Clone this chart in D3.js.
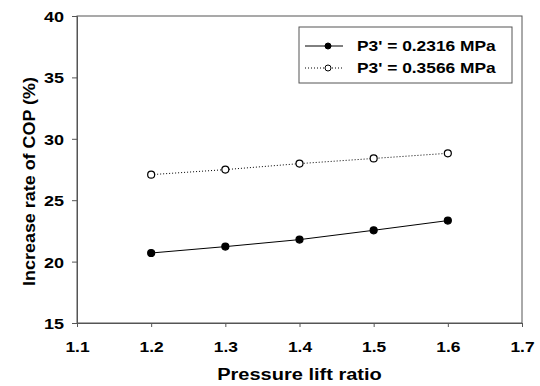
<!DOCTYPE html>
<html>
<head>
<meta charset="utf-8">
<script src="https://cdn.jsdelivr.net/npm/d3@7"></script>
<style>
  body { margin: 0; background: #fff; }
  text { font-family: "Liberation Sans", Arial, sans-serif; font-weight: bold; fill: #000; }
</style>
</head>
<body>
<div id="chart"></div>
<script>

var ratios = [1.2, 1.3, 1.4, 1.5, 1.6];
var lowP = [20.70, 21.22, 21.79, 22.55, 23.34];
var highP = [27.08, 27.49, 27.98, 28.40, 28.82];
var seriesNames = ["P3' = 0.2316 MPa", "P3' = 0.3566 MPa"];
var xTicks = [1.1, 1.2, 1.3, 1.4, 1.5, 1.6, 1.7];
var yTicks = [15, 20, 25, 30, 35, 40];

var W = 540, H = 386;
var margin = { top: 16, right: 18, bottom: 63, left: 77 },
  width = W - margin.left - margin.right,
  height = H - margin.top - margin.bottom;

var svg = d3.select("#chart").append("svg")
  .attr("width", W).attr("height", H);

var g = svg.append("g")
  .attr("transform", "translate(" + margin.left + "," + margin.top + ")");

var x = d3.scaleLinear().domain([1.1, 1.7]).range([0, width]);
var y = d3.scaleLinear().domain([15, 40]).range([height, 0]);

// widen glyphs a bit, the original text is stretched sideways
function stretch(sel, k) {
  sel.each(function () {
    var len = this.getComputedTextLength();
    d3.select(this).attr("textLength", len * k).attr("lengthAdjust", "spacingAndGlyphs");
  });
}

// frame
g.append("rect")
  .attr("width", width).attr("height", height)
  .attr("fill", "none").attr("stroke", "#555").attr("stroke-width", 1);

var xAxis = g.append("g")
  .attr("transform", "translate(0," + height + ")")
  .call(d3.axisBottom(x).tickValues(xTicks).tickFormat(d3.format(".1f")).tickSize(4).tickPadding(15));
var yAxis = g.append("g")
  .call(d3.axisLeft(y).tickValues(yTicks).tickSize(5).tickPadding(8));

[xAxis, yAxis].forEach(function (a) {
  a.select(".domain").attr("stroke", "#555");
  a.selectAll(".tick line").attr("stroke", "#555");
});
xAxis.selectAll(".tick text").attr("font-size", 14.5).attr("font-family", null).call(stretch, 1.2);
yAxis.selectAll(".tick text").attr("font-size", 15).attr("font-family", null).attr("dy", "0.36em").call(stretch, 1.2);

// axis titles
svg.append("text")
  .attr("x", margin.left + width / 2).attr("y", 380)
  .attr("text-anchor", "middle").attr("font-size", 16)
  .text("Pressure lift ratio").call(stretch, 1.25);

svg.append("text")
  .attr("transform", "translate(35," + (margin.top + height / 2 + 12) + ") rotate(-90)")
  .attr("text-anchor", "middle").attr("font-size", 16)
  .text("Increase rate of COP (%)").call(stretch, 1.12);

var line = d3.line()
  .x(function (d) { return x(d[0]); })
  .y(function (d) { return y(d[1]); });

var series = [
  { name: seriesNames[0], values: d3.zip(ratios, lowP), dash: null, fill: "#000" },
  { name: seriesNames[1], values: d3.zip(ratios, highP), dash: "1,2", fill: "#fff" }
];

series.forEach(function (s) {
  g.append("path")
    .datum(s.values)
    .attr("fill", "none").attr("stroke", "#000").attr("stroke-width", 1)
    .attr("stroke-dasharray", s.dash)
    .attr("d", line);
  g.selectAll(null).data(s.values).enter().append("circle")
    .attr("cx", function (d) { return x(d[0]); })
    .attr("cy", function (d) { return y(d[1]); })
    .attr("r", 3.5)
    .attr("fill", s.fill).attr("stroke", "#000").attr("stroke-width", 1.2);
});

// legend
var leg = svg.append("g").attr("transform", "translate(299,27)");
leg.append("rect").attr("width", 213).attr("height", 56)
  .attr("fill", "#fff").attr("stroke", "#555");

series.forEach(function (s, i) {
  var row = leg.append("g").attr("transform", "translate(0," + (19 + i * 22) + ")");
  row.append("line").attr("x1", 6).attr("x2", 44)
    .attr("stroke", "#000").attr("stroke-dasharray", s.dash);
  row.append("circle").attr("cx", 29).attr("r", 3)
    .attr("fill", s.fill).attr("stroke", "#000");
  row.append("text").attr("x", 58).attr("y", 5)
    .attr("font-size", 14).text(s.name).call(stretch, 1.24);
});

</script>
</body>
</html>
